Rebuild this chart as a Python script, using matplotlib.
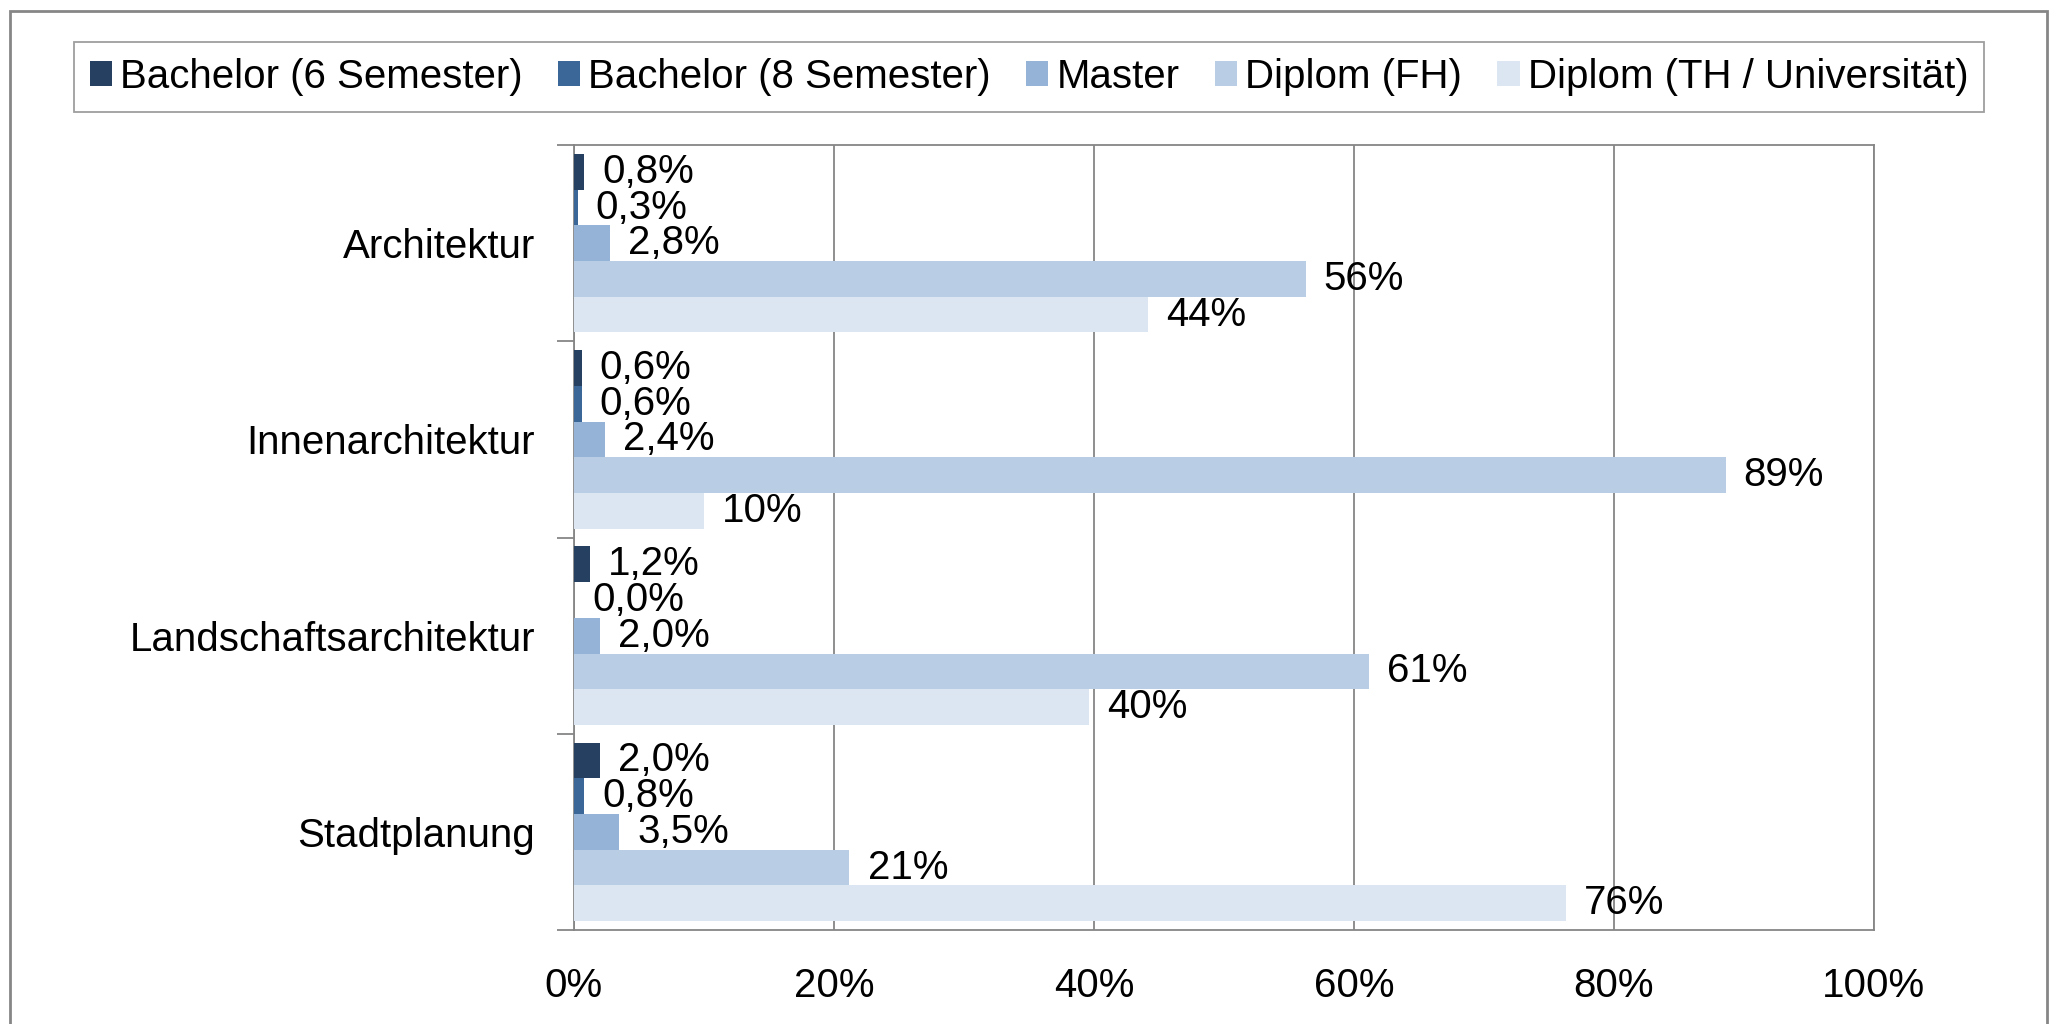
import numpy as np
import matplotlib.pyplot as plt
from matplotlib.patches import Rectangle

plt.rcParams['font.family'] = ['Liberation Sans', 'DejaVu Sans']

categories = ["Architektur", "Innenarchitektur", "Landschaftsarchitektur", "Stadtplanung"]
series = ["Bachelor (6 Semester)", "Bachelor (8 Semester)", "Master", "Diplom (FH)",
          "Diplom (TH / Universität)"]
colors = ["#254061", "#3B6698", "#95B3D7", "#B9CDE5", "#DCE6F2"]

bachelor6 = [0.8, 0.6, 1.2, 2.0]
bachelor8 = [0.3, 0.6, 0.0, 0.8]
master = [2.8, 2.4, 2.0, 3.5]
diplom_fh = [56.3, 88.6, 61.2, 21.2]
diplom_th = [44.2, 10.0, 39.6, 76.3]
values = [bachelor6, bachelor8, master, diplom_fh, diplom_th]


def fmt(v):
    if v < 10:
        return f"{v:.1f}".replace(".", ",") + "%"
    return f"{v:.0f}%"


fs = 29
fig = plt.figure(figsize=(20.6, 10.24), dpi=100)
ax = fig.add_axes([0.2786, 0.0918, 0.631, 0.7665])

y = np.arange(len(categories))
h = 0.182
for i, (name, vals, col) in enumerate(zip(series, values, colors)):
    bars = ax.barh(y + (i - 2) * h, vals, height=h, color=col, label=name, zorder=3)
    ax.bar_label(bars, labels=[fmt(v) for v in vals], padding=13, fontsize=fs)

ax.set_xlim(0, 100)
ax.set_ylim(3.5, -0.5)
ax.set_xticks(np.arange(0, 101, 20))
ax.set_xticklabels([f"{t}%" for t in range(0, 101, 20)], fontsize=fs)
ax.tick_params(axis="x", length=0, pad=27)
ax.xaxis.grid(True, color="#868686", linewidth=1.3, zorder=0)

ax.set_yticks(y)
ax.set_yticklabels(categories, fontsize=fs)
ax.tick_params(axis="y", which="major", length=0, pad=28)
ax.set_yticks(np.arange(-0.5, 4.0, 1.0), minor=True)
ax.tick_params(axis="y", which="minor", length=12, width=1.3, color="#868686")

for s in ax.spines.values():
    s.set_color("#868686")
    s.set_linewidth(1.3)

leg = fig.legend(loc="center", bbox_to_anchor=(0.4995, 0.925), ncol=5, fontsize=fs,
                 frameon=True, fancybox=False, edgecolor="#868686", handlelength=0.55,
                 handleheight=0.6, handletextpad=0.2, columnspacing=0.88,
                 borderpad=0.4)
leg.get_frame().set_linewidth(1.3)

fig.patches.append(Rectangle((0.005, -0.02), 0.9887, 1.0097, transform=fig.transFigure,
                             fill=False, edgecolor="#868686", linewidth=2))

fig.savefig("out.png", dpi=100)
